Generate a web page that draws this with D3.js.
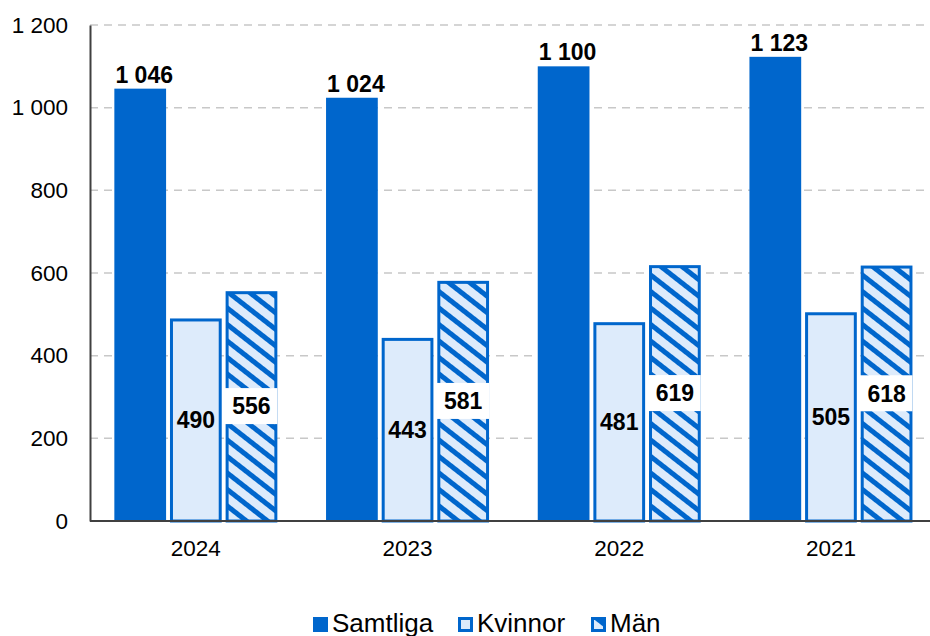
<!DOCTYPE html>
<html>
<head>
<meta charset="utf-8">
<style>
  body { margin: 0; background: #fff; }
  svg { font-family: "Liberation Sans", Arial, sans-serif; }
  .axis text { font-size: 22.5px; fill: #000; font-family: "Liberation Sans", Arial, sans-serif; }
  .axis path, .axis line { stroke: #404040; }
  .grid line { stroke: #c8c8c8; stroke-dasharray: 8,6; stroke-width: 1.5px; }
  .lbl { font-weight: bold; font-size: 23px; fill: #000; text-anchor: middle; }
  .legend text { font-size: 26px; fill: #000; }
</style>
<script src="https://d3js.org/d3.v7.min.js"></script>
</head>
<body>
<div id="chart"></div>
<script>
var years = ["2024", "2023", "2022", "2021"];
var seriesNames = ["Samtliga", "Kvinnor", "Män"];
var samtliga = [1046, 1024, 1100, 1123];
var kvinnor = [490, 443, 481, 505];
var man = [556, 581, 619, 618];
var yTicks = [0, 200, 400, 600, 800, 1000, 1200];

var W = 930, H = 636;
var margin = {top: 25, right: 0, bottom: 115, left: 90};
var width = W - margin.left - margin.right,
    height = H - margin.top - margin.bottom;
var blue = "#0066cc", light = "#ddebfb";

var values = [samtliga, kvinnor, man];
var data = years.map(function (y, i) {
  return seriesNames.map(function (s, j) { return {year: y, key: s, value: values[j][i]}; });
});

var fmt = function (v) { return d3.format(",")(v).replace(",", " "); };

var svg = d3.select("#chart").append("svg").attr("width", W).attr("height", H);
var defs = svg.append("defs");
var pat = defs.append("pattern").attr("id", "hatch").attr("patternUnits", "userSpaceOnUse")
  .attr("width", 13).attr("height", 13).attr("patternTransform", "rotate(-52)");
pat.append("rect").attr("width", 13).attr("height", 13).attr("fill", light);
pat.append("rect").attr("x", 0).attr("width", 5).attr("height", 13).attr("fill", blue);

var g = svg.append("g").attr("transform", "translate(" + margin.left + "," + margin.top + ")");

var x0 = d3.scaleBand().domain(years).range([0, 846.8]).paddingInner(0.23).paddingOuter(0.115);
var x1 = d3.scaleBand().domain(seriesNames).range([0, x0.bandwidth()]).paddingInner(0.07);
var y = d3.scaleLinear().domain([0, 1200]).range([height, 0]);

g.append("g").attr("class", "grid")
  .selectAll("line").data(yTicks.slice(1)).enter().append("line")
  .attr("x1", 0).attr("x2", width).attr("y1", y).attr("y2", y);

var fills = {"Samtliga": blue, "Kvinnor": light, "Män": "url(#hatch)"};

var grp = g.selectAll(".grp").data(data).enter().append("g")
  .attr("transform", function (d) { return "translate(" + x0(d[0].year) + ",0)"; });

grp.selectAll("rect").data(function (d) { return d; }).enter().append("rect")
  .attr("x", function (d) { return x1(d.key) + (d.key === "Samtliga" ? 0 : 1.5); })
  .attr("y", function (d) { return y(d.value) + (d.key === "Samtliga" ? 0 : 1.5); })
  .attr("width", function (d) { return x1.bandwidth() - (d.key === "Samtliga" ? 0 : 3); })
  .attr("height", function (d) { return height - y(d.value) - (d.key === "Samtliga" ? 0 : 1.5); })
  .attr("fill", function (d) { return fills[d.key]; })
  .attr("stroke", function (d) { return d.key === "Samtliga" ? "none" : blue; })
  .attr("stroke-width", 3);

// white boxes behind the Män labels
grp.each(function (d) {
  var m = d[2];
  d3.select(this).append("rect")
    .attr("x", x1("Män") - 3).attr("width", x1.bandwidth() + 3)
    .attr("y", y(m.value / 2) - 18).attr("height", 36)
    .attr("fill", "#fff");
});

grp.selectAll(".lbl").data(function (d) { return d; }).enter().append("text")
  .attr("class", "lbl")
  .attr("x", function (d) { return x1(d.key) + x1.bandwidth() / 2 + (d.key === "Samtliga" ? 4 : 0); })
  .attr("y", function (d) { return d.key === "Samtliga" ? y(d.value) - 6 : y(d.value / 2); })
  .attr("dy", function (d) { return d.key === "Samtliga" ? 0 : "0.36em"; })
  .text(function (d) { return fmt(d.value); });

var yAxis = g.append("g").attr("class", "axis")
  .call(d3.axisLeft(y).tickValues(yTicks).tickSize(0).tickPadding(22).tickFormat(fmt));
yAxis.select("path").attr("stroke-width", 2);

var xAxis = g.append("g").attr("class", "axis").attr("transform", "translate(0," + height + ")")
  .call(d3.axisBottom(x0).tickSize(0).tickPadding(19));
xAxis.select("path").attr("d", "M0,0H" + width).attr("stroke-width", 2);

var legend = svg.append("g").attr("class", "legend");
var lx = [313, 458, 591];
seriesNames.forEach(function (s, i) {
  var it = legend.append("g").attr("transform", "translate(" + lx[i] + ",617)");
  if (s === "Samtliga") {
    it.append("rect").attr("width", 15).attr("height", 15).attr("fill", blue);
  } else {
    it.append("rect").attr("x", 1.5).attr("y", 1.5).attr("width", 12).attr("height", 12)
      .attr("fill", s === "Kvinnor" ? light : "url(#hatch)").attr("stroke", blue).attr("stroke-width", 3);
  }
  it.append("text").attr("x", 19).attr("y", 15).text(s);
});
</script>
</body>
</html>
